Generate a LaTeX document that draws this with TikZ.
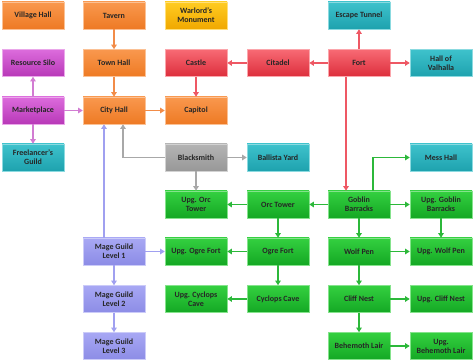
\documentclass[tikz,border=0pt]{standalone}
\usepackage{fontspec}
\setmainfont{Carlito}
\usetikzlibrary{arrows.meta,positioning}
\definecolor{orT}{HTML}{F9984E}\definecolor{orB}{HTML}{EE7A24}
\definecolor{yeT}{HTML}{FFCC22}\definecolor{yeB}{HTML}{F0A800}
\definecolor{mgT}{HTML}{DC6CDC}\definecolor{mgB}{HTML}{B838B8}
\definecolor{tlT}{HTML}{3EC2CC}\definecolor{tlB}{HTML}{1EA2AE}
\definecolor{rdT}{HTML}{F86A74}\definecolor{rdB}{HTML}{DC2E3C}
\definecolor{gyT}{HTML}{B4B4B4}\definecolor{gyB}{HTML}{989898}
\definecolor{grT}{HTML}{34D040}\definecolor{grB}{HTML}{14A824}
\definecolor{pwT}{HTML}{A8A8F4}\definecolor{pwB}{HTML}{8C8CE6}
\definecolor{aOr}{HTML}{F28C48}
\definecolor{aRd}{HTML}{EE5864}
\definecolor{aMg}{HTML}{D27CD2}
\definecolor{aGy}{HTML}{A8A8A8}
\definecolor{aPw}{HTML}{A0A0F0}
\definecolor{aGr}{HTML}{2CB83A}
\tikzset{
  box/.style={rectangle, minimum width=62pt, minimum height=27pt, inner sep=1pt,
    align=center, font=\fontsize{8}{9}\selectfont\bfseries, text=black!85, line width=0.6pt},
  orbox/.style={box, top color=orT, bottom color=orB, draw=orT!60!white},
  yebox/.style={box, top color=yeT, bottom color=yeB, draw=yeT!60!white},
  mgbox/.style={box, top color=mgT, bottom color=mgB, draw=mgT!60!white},
  tlbox/.style={box, top color=tlT, bottom color=tlB, draw=tlT!60!white},
  rdbox/.style={box, top color=rdT, bottom color=rdB, draw=rdT!60!white},
  gybox/.style={box, top color=gyT, bottom color=gyB, draw=gyT!60!white},
  grbox/.style={box, top color=grT, bottom color=grB, draw=grT!60!white},
  pwbox/.style={box, top color=pwT, bottom color=pwB, draw=pwT!60!white},
  conn/.style={line width=1.5pt, -{Triangle[length=4.5pt,width=5.5pt]}},
  cOr/.style={conn, draw=aOr},
  cRd/.style={conn, draw=aRd},
  cMg/.style={conn, draw=aMg},
  cGy/.style={conn, draw=aGy},
  cPw/.style={conn, draw=aPw},
  cGr/.style={conn, draw=aGr},
}
\begin{document}
\begin{tikzpicture}[x=1pt,y=-1pt]
\useasboundingbox (0,0) rectangle (474,363);
% columns 33,114,196,278,359,441 ; rows 15.5,63,110.5,157.5,204.5,251.5,299,346
\node[orbox] (village) at (33,15.5) {Village Hall};
\node[orbox] (tavern) at (114,15.5) {Tavern};
\node[yebox] (warlord) at (196,15.5) {Warlord's\\Monument};
\node[tlbox] (escape) at (359,15.5) {Escape Tunnel};

\node[mgbox] (silo) at (33,63) {Resource Silo};
\node[orbox] (town) at (114,63) {Town Hall};
\node[rdbox] (castle) at (196,63) {Castle};
\node[rdbox] (citadel) at (278,63) {Citadel};
\node[rdbox] (fort) at (359,63) {Fort};
\node[tlbox] (valhalla) at (441,63) {Hall of\\Valhalla};

\node[mgbox] (market) at (33,110.5) {Marketplace};
\node[orbox] (city) at (114,110.5) {City Hall};
\node[orbox] (capitol) at (196,110.5) {Capitol};

\node[tlbox] (freelancer) at (33,157.5) {Freelancer's\\Guild};
\node[gybox] (blacksmith) at (196,157.5) {Blacksmith};
\node[tlbox] (ballista) at (278,157.5) {Ballista Yard};
\node[tlbox] (mess) at (441,157.5) {Mess Hall};

\node[grbox] (uorc) at (196,204.5) {Upg. Orc\\Tower};
\node[grbox] (orc) at (278,204.5) {Orc Tower};
\node[grbox] (goblin) at (359,204.5) {Goblin\\Barracks};
\node[grbox] (ugoblin) at (441,204.5) {Upg. Goblin\\Barracks};

\node[pwbox] (mage1) at (114,251.5) {Mage Guild\\Level 1};
\node[grbox] (uogre) at (196,251.5) {Upg. Ogre Fort};
\node[grbox] (ogre) at (278,251.5) {Ogre Fort};
\node[grbox] (wolf) at (359,251.5) {Wolf Pen};
\node[grbox] (uwolf) at (441,251.5) {Upg. Wolf Pen};

\node[pwbox] (mage2) at (114,299) {Mage Guild\\Level 2};
\node[grbox] (ucyclops) at (196,299) {Upg. Cyclops\\Cave};
\node[grbox] (cyclops) at (278,299) {Cyclops Cave};
\node[grbox] (cliff) at (359,299) {Cliff Nest};
\node[grbox] (ucliff) at (441,299) {Upg. Cliff Nest};

\node[pwbox] (mage3) at (114,346) {Mage Guild\\Level 3};
\node[grbox] (behemoth) at (359,346) {Behemoth Lair};
\node[grbox] (ubehemoth) at (441,346) {Upg.\\Behemoth Lair};

% orange
\draw[cOr] (tavern) -- (town);
\draw[cOr] (town) -- (city);
\draw[cOr] (city) -- (capitol);
% magenta
\draw[cMg] (market) -- (city);
\draw[cMg] (market) -- (silo);
\draw[cMg] (market) -- (freelancer);
% red
\draw[cRd] (castle) -- (capitol);
\draw[cRd] (citadel) -- (castle);
\draw[cRd] (fort) -- (citadel);
\draw[cRd] (fort) -- (escape);
\draw[cRd] (fort) -- (valhalla);
\draw[cRd] ([xshift=-13pt]fort.south) -- ([xshift=-13pt]goblin.north);
% gray
\draw[cGy] (blacksmith.west) -| ([xshift=9pt]city.south);
\draw[cGy] (blacksmith) -- (ballista);
\draw[cGy] (blacksmith) -- (uorc);
% periwinkle
\draw[cPw] ([xshift=-10pt]mage1.north) -- ([xshift=-10pt]city.south);
\draw[cPw] (mage1) -- (uogre);
\draw[cPw] (mage1) -- (mage2);
\draw[cPw] (mage2) -- (mage3);
% green
\draw[cGr] (goblin) -- (orc);
\draw[cGr] (orc) -- (uorc);
\draw[cGr] ([xshift=14pt]goblin.north) |- (mess.west);
\draw[cGr] (goblin) -- (ugoblin);
\draw[cGr] (goblin) -- (wolf);
\draw[cGr] (orc) -- (ogre);
\draw[cGr] (ugoblin) -- (uwolf);
\draw[cGr] (ogre) -- (uogre);
\draw[cGr] (ogre) -- (cyclops);
\draw[cGr] (cyclops) -- (ucyclops);
\draw[cGr] (wolf) -- (uwolf);
\draw[cGr] (wolf) -- (cliff);
\draw[cGr] (cliff) -- (ucliff);
\draw[cGr] (cliff) -- (behemoth);
\draw[cGr] (behemoth) -- (ubehemoth);
\end{tikzpicture}
\end{document}
